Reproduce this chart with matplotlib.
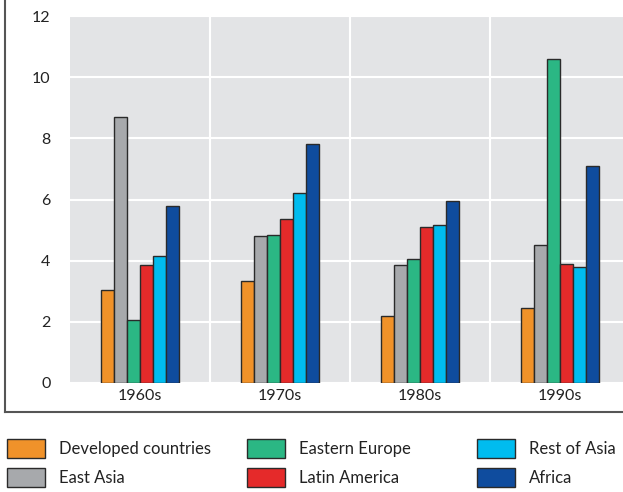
import matplotlib
matplotlib.use("Agg")
import matplotlib.pyplot as plt
from matplotlib.lines import Line2D
import numpy as np

decades = ["1960s", "1970s", "1980s", "1990s"]
series_names = ["Developed countries", "East Asia", "Eastern Europe",
                "Latin America", "Rest of Asia", "Africa"]
developed = [3.05, 3.35, 2.2, 2.45]
east_asia = [8.7, 4.8, 3.85, 4.5]
eastern_europe = [2.05, 4.85, 4.05, 10.6]
latin_america = [3.85, 5.35, 5.1, 3.9]
rest_of_asia = [4.15, 6.2, 5.15, 3.8]
africa = [5.8, 7.8, 5.95, 7.1]
yticks = [0, 2, 4, 6, 8, 10, 12]

series = [developed, east_asia, eastern_europe, latin_america, rest_of_asia, africa]
colors = ["#F0922A", "#A7A9AC", "#2BB784", "#E52A2A", "#00BCEF", "#0F4C9E"]

plt.rcParams['font.family'] = ['Lato', 'DejaVu Sans']

W, H = 623, 492
fig = plt.figure(figsize=(W / 100, H / 100), dpi=100)
ax = fig.add_axes([70 / W, 109 / H, 560 / W, 367 / H])
ax.set_facecolor("#E3E4E6")

x = np.arange(len(decades))
bw = 13 / 140
n = len(series)
handles = []
for i, (vals, c, name) in enumerate(zip(series, colors, series_names)):
    offs = (i - (n - 1) / 2) * bw
    b = ax.bar(x + offs, vals, width=bw, color=c, edgecolor="#2a2a2a",
               linewidth=1.0, label=name, zorder=3)
    handles.append(b)

ax.set_xlim(-0.5, 3.5)
ax.set_ylim(0, 12)
ax.set_yticks(yticks)
ax.set_yticklabels([str(t) for t in yticks])
ax.set_xticks(x)
ax.set_xticklabels(decades)
ax.set_xticks([0.5, 1.5, 2.5], minor=True)
ax.tick_params(axis="both", which="both", length=0, labelsize=11.5, colors="#222222")
ax.tick_params(axis="y", pad=14)
ax.tick_params(axis="x", pad=4)
ax.grid(True, axis="y", which="major", color="white", linewidth=1.5, zorder=1)
ax.grid(True, axis="x", which="minor", color="white", linewidth=1.5, zorder=1)
ax.grid(False, axis="x", which="major")
ax.set_axisbelow(True)
for s in ax.spines.values():
    s.set_visible(False)

# frame lines (left and bottom)
fig.add_artist(Line2D([5 / W, 5 / W], [(H - 412) / H, 1.0], color="#555555",
                      linewidth=1.5, transform=fig.transFigure))
fig.add_artist(Line2D([5 / W, 1.0], [(H - 412) / H, (H - 412) / H], color="#555555",
                      linewidth=1.5, transform=fig.transFigure))

fs = 12
col_x = [7, 247, 477]
for k in range(3):
    hs = handles[2 * k:2 * k + 2]
    lg = fig.legend(hs, [h.get_label() for h in hs], loc="upper left",
                    bbox_to_anchor=(col_x[k] / W, (H - 439) / H),
                    frameon=False, fontsize=fs, handlelength=2.3,
                    handleheight=1.42, handletextpad=0.8, labelspacing=0.55,
                    borderpad=0, borderaxespad=0)
    for t in lg.get_texts():
        t.set_color("#222222")

fig.savefig("out.png", dpi=100)
